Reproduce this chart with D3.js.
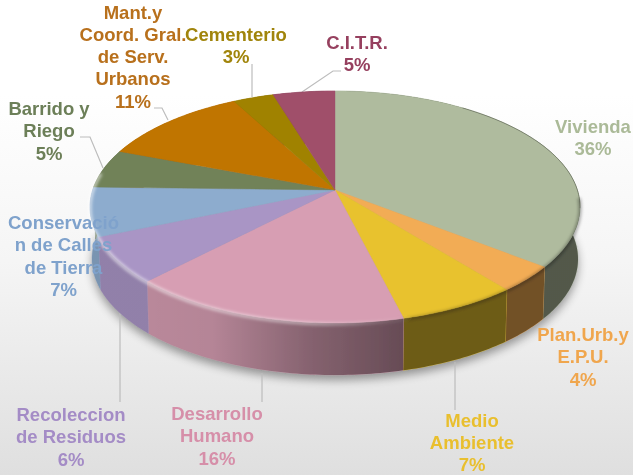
<!DOCTYPE html>
<html><head><meta charset="utf-8">
<script src="https://cdn.jsdelivr.net/npm/d3@7"></script>
<style>html,body{margin:0;padding:0;background:#fff}svg{display:block}</style>
</head><body>
<svg id="c" width="633" height="475"></svg>
<script>
const categories = ["Vivienda","Plan.Urb.y E.P.U.","Medio Ambiente","Desarrollo Humano","Recoleccion de Residuos","Conservación de Calles de Tierra","Barrido y Riego","Mant.y Coord. Gral. de Serv. Urbanos","Cementerio","C.I.T.R."];
const values = [35.6,3.6,6.9,16.1,6.4,6.8,5.4,11.4,3.1,4.7];
const labelLines = [["Vivienda"],["Plan.Urb.y","E.P.U."],["Medio","Ambiente"],["Desarrollo","Humano"],["Recoleccion","de Residuos"],["Conservació","n de Calles","de Tierra"],["Barrido y","Riego"],["Mant.y","Coord. Gral.","de Serv.","Urbanos"],["Cementerio"],["C.I.T.R."]];
const faceColors = ["#afbb9e","#f2ac55","#e8c22f","#d79eb3","#a995c5","#8dacce","#718259","#c07506","#a08206","#a04f6b"];
const textColors = ["#abba98","#f0a64e","#e9bf2e","#d68fa9","#a48cc6","#7fa2cc","#6c7f58","#b8701c","#a08408","#96415f"];
// layout (not data): label centre x, first baseline y
const labelX = [593,583,472,217,71,63.5,49,133,236,357];
const labelY = [133,341,426.5,420,421,229,115,18.5,41,49];
const lineGap = 22.3;
const leaders = [null,null,[[455,362],[455,410]],[[262,373],[262,402]],[[120,313],[120,402]],null,[[80,137],[90,137],[103,168]],[[154,108],[162,108],[168,120]],[[252,64],[252,97]],[[341,71],[333,71],[302,92]]];

const svg = d3.select("#c");
const defs = svg.append("defs");
const bg = defs.append("linearGradient").attr("id","bg").attr("x1",0).attr("x2",0).attr("y1",0).attr("y2",1);
[[0,"#ffffff"],[0.2,"#ffffff"],[0.55,"#f5f5f5"],[1,"#dfdfdf"]].forEach(s=>bg.append("stop").attr("offset",s[0]).attr("stop-color",s[1]));
const shade = defs.append("linearGradient").attr("id","shade").attr("gradientUnits","userSpaceOnUse").attr("x1",90).attr("x2",580).attr("y1",0).attr("y2",0);
[[0,0.14],[0.12,0.14],[0.25,0.16],[0.45,0.38],[0.65,0.53],[1,0.53]].forEach(s=>shade.append("stop").attr("offset",s[0]).attr("stop-color","#000").attr("stop-opacity",s[1]));
const bevel = defs.append("linearGradient").attr("id","bevel").attr("gradientUnits","userSpaceOnUse").attr("x1",90).attr("x2",580).attr("y1",0).attr("y2",0);
[[0,"#fff",0.55],[0.45,"#fff",0.4],[0.62,"#fff",0.08],[0.66,"#000",0.2],[1,"#000",0.3]].forEach(s=>bevel.append("stop").attr("offset",s[0]).attr("stop-color",s[1]).attr("stop-opacity",s[2]));
defs.append("filter").attr("id","blurS").attr("x","-20%").attr("y","-20%").attr("width","140%").attr("height","140%").append("feGaussianBlur").attr("stdDeviation",5);
defs.append("filter").attr("id","blurB").attr("x","-5%").attr("y","-5%").attr("width","110%").attr("height","110%").append("feGaussianBlur").attr("stdDeviation",1.6);
defs.append("filter").attr("id","soft").attr("x","-5%").attr("y","-5%").attr("width","110%").attr("height","110%").append("feGaussianBlur").attr("stdDeviation",0.35);

svg.append("rect").attr("width",633).attr("height",475).attr("fill","url(#bg)");

const cx=335, topCy=207, botCy=259, rxTop=245, rxBot=243, ry=116;
const a = -0.147; // perspective tilt: moves the pie centre up inside the rim ellipse
const proj = (theta, r, cy, rx) => {
  const x=r*Math.sin(theta), y=-r*Math.cos(theta), w=1+a*y;
  return [cx+rx*x*Math.sqrt(1-a*a)/w, cy+ry*(y+a)/w];
};
const pie = d3.pie().sort(null).value(d=>d);
const arcs = pie(values);
const line = d3.line();
const steps = (s,e) => { const n=Math.max(4,Math.ceil((e-s)*60)); return d3.range(n+1).map(i=>s+(e-s)*i/n); };

const root = svg.append("g").attr("filter","url(#soft)");

// ground shadow
root.append("path").attr("d",line(steps(0,2*Math.PI).map(t=>proj(t,1,botCy+5,rxBot)))+"Z").attr("fill","#000").attr("opacity",0.38).attr("filter","url(#blurS)");

// leader lines
root.append("g").selectAll("path").data(leaders.filter(Boolean)).join("path").attr("d",d=>line(d)).attr("fill","none").attr("stroke","#bdbdbd").attr("stroke-width",1.2);

// side walls
const sides = root.append("g");
arcs.forEach((d,i)=>{
  const ts=steps(d.startAngle,d.endAngle);
  const dpath=line(ts.map(t=>proj(t,1,topCy,rxTop)).concat(ts.slice().reverse().map(t=>proj(t,1,botCy,rxBot))))+"Z";
  sides.append("path").attr("d",dpath).attr("fill",faceColors[i]).attr("stroke",faceColors[i]).attr("stroke-width",0.4);
  sides.append("path").attr("d",dpath).attr("fill","url(#shade)");
});

// top faces
const tops = root.append("g");
arcs.forEach((d,i)=>{
  const pts=[proj(0,0,topCy,rxTop)].concat(steps(d.startAngle,d.endAngle).map(t=>proj(t,1,topCy,rxTop)));
  tops.append("path").attr("d",line(pts)+"Z").attr("fill",faceColors[i]).attr("stroke",faceColors[i]).attr("stroke-width",0.4);
});

// rim bevel along the front edge
root.append("path").attr("d",line(steps(Math.PI*0.52,Math.PI*1.55).map(t=>proj(t,1,topCy+1,rxTop)))).attr("fill","none").attr("stroke","url(#bevel)").attr("stroke-width",3.5).attr("filter","url(#blurB)");
// dark hairline on the back/right rim
root.append("path").attr("d",line(steps(Math.PI*0.2,Math.PI*0.55).map(t=>proj(t,1,topCy,rxTop)))).attr("fill","none").attr("stroke","#5a5f50").attr("stroke-width",1).attr("opacity",0.55);

// labels
const labels = root.append("g").attr("font-family","'Liberation Sans',Arial,sans-serif").attr("font-weight",700).attr("font-size","18.5px").attr("text-anchor","middle");
categories.forEach((c,i)=>{
  const t=labels.append("text").attr("fill",textColors[i]);
  const lines=labelLines[i].concat([Math.round(values[i])+"%"]);
  lines.forEach((s,k)=>t.append("tspan").attr("x",labelX[i]).attr("y",labelY[i]+k*lineGap).text(s));
});
</script>
</body></html>
